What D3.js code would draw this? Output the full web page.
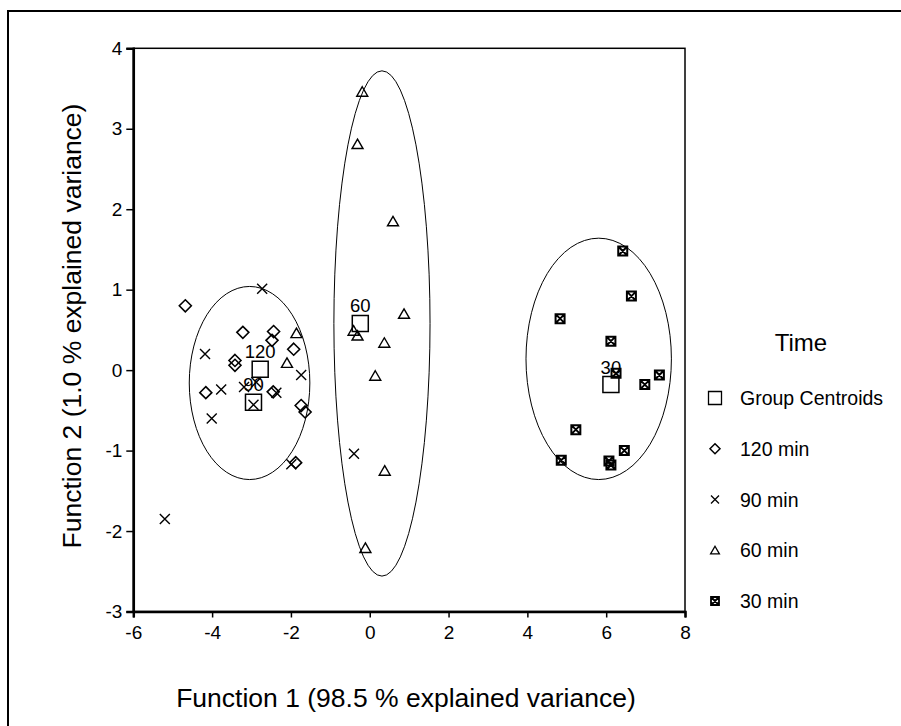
<!DOCTYPE html>
<html>
<head>
<meta charset="utf-8">
<script src="https://cdn.jsdelivr.net/npm/d3@7"></script>
<style>
  body { margin: 0; background: #fff; }
  svg { display: block; font-family: "Liberation Sans", Arial, sans-serif; }
  .tick text { fill: #000; }
  .tick line { stroke: #000; stroke-width: 1.5; }
</style>
</head>
<body>
<div id="chart"></div>
<script>
  // discriminant scores: [function 1, function 2]
  const min120 = [[-4.68, 0.80], [-3.22, 0.47], [-2.44, 0.48], [-2.48, 0.37], [-1.93, 0.26], [-3.42, 0.12],
                  [-3.42, 0.06], [-4.16, -0.28], [-2.45, -0.27], [-1.74, -0.44], [-1.64, -0.52], [-1.88, -1.15]];
  const min90 = [[-2.73, 1.01], [-4.18, 0.20], [-3.77, -0.24], [-3.19, -0.21], [-2.88, -0.15], [-4.01, -0.60],
                 [-2.37, -0.28], [-1.74, -0.06], [-2.95, -0.43], [-1.99, -1.17], [-5.20, -1.85], [-0.40, -1.04]];
  const min60 = [[-0.19, 3.46], [-0.31, 2.81], [0.59, 1.85], [0.87, 0.70], [-0.41, 0.49], [-0.31, 0.43],
                 [0.37, 0.34], [0.14, -0.07], [0.38, -1.25], [-0.11, -2.21], [-1.86, 0.46], [-2.10, 0.09]];
  const min30 = [[6.42, 1.48], [6.64, 0.92], [4.83, 0.64], [6.12, 0.36], [6.25, -0.04], [7.35, -0.06],
                 [6.98, -0.18], [5.23, -0.74], [6.46, -1.00], [4.86, -1.12], [6.07, -1.13], [6.12, -1.18]];

  const centroidLabels = ["120", "90", "60", "30"];
  const centroids = [[-2.78, 0.01], [-2.95, -0.40], [-0.24, 0.58], [6.12, -0.18]];

  // group ellipses: [cx, cy, rx, ry] in data units
  const ellipses = [[-3.05, -0.16, 1.53, 1.20], [0.31, 0.58, 1.22, 3.14], [5.81, 0.14, 1.845, 1.50]];

  const xTicks = [-6, -4, -2, 0, 2, 4, 6, 8];
  const yTicks = [-3, -2, -1, 0, 1, 2, 3, 4];
  const legendLabels = ["Group Centroids", "120 min", "90 min", "60 min", "30 min"];

  const W = 901, H = 726;
  const margin = { top: 48.3, right: 216, bottom: 114.5, left: 133.3 };
  const width = W - margin.left - margin.right;
  const height = H - margin.top - margin.bottom;

  const fmt = d => (d < 0 ? "-" : "") + Math.abs(d);

  const svg = d3.select("#chart").append("svg")
      .attr("width", W)
      .attr("height", H);

  // outer frame (top and left edges only)
  svg.append("path")
      .attr("d", `M8,${H} V11 H${W}`)
      .attr("fill", "none")
      .attr("stroke", "#000")
      .attr("stroke-width", 2);

  const g = svg.append("g")
      .attr("transform", `translate(${margin.left},${margin.top})`);

  const x = d3.scaleLinear().domain([-6, 8]).range([0, width]);
  const y = d3.scaleLinear().domain([-3, 4]).range([height, 0]);

  // box
  g.append("rect")
      .attr("width", width)
      .attr("height", height)
      .attr("fill", "none")
      .attr("stroke", "#000")
      .attr("stroke-width", 1.5);

  g.append("g")
      .attr("transform", `translate(0,${height})`)
      .call(d3.axisBottom(x).tickValues(xTicks).tickFormat(fmt).tickSize(6).tickPadding(8))
      .attr("font-family", null)
      .attr("font-size", 19)
      .call(a => a.select(".domain").attr("stroke-width", 2.5));

  g.append("g")
      .call(d3.axisLeft(y).tickValues(yTicks).tickFormat(fmt).tickSize(7).tickPadding(4))
      .attr("font-family", null)
      .attr("font-size", 19)
      .call(a => a.select(".domain").attr("stroke-width", 2.5));

  // ellipses
  g.selectAll(".ell")
    .data(ellipses)
    .join("ellipse")
      .attr("cx", d => x(d[0]))
      .attr("cy", d => y(d[1]))
      .attr("rx", d => x(d[0] + d[2]) - x(d[0]))
      .attr("ry", d => y(d[1] - d[3]) - y(d[1]))
      .attr("fill", "none")
      .attr("stroke", "#000")
      .attr("stroke-width", 1);

  // marker shapes, s = size in px
  const shapes = {
    diamond: s => `M0,${-s / 2}L${s / 2},0L0,${s / 2}L${-s / 2},0Z`,
    cross: s => `M${-s / 2},${-s / 2}L${s / 2},${s / 2}M${s / 2},${-s / 2}L${-s / 2},${s / 2}`,
    triangle: s => `M0,${-s * 0.5}L${s * 0.55},${s * 0.45}L${-s * 0.55},${s * 0.45}Z`,
    square: s => `M${-s / 2},${-s / 2}H${s / 2}V${s / 2}H${-s / 2}Z`,
    boxx: s => `M${-s / 2},${-s / 2}H${s / 2}V${s / 2}H${-s / 2}Z` +
               `M${-s / 2},${-s / 2}L${s / 2},${s / 2}M${s / 2},${-s / 2}L${-s / 2},${s / 2}`
  };

  const series = [
    { data: min120, shape: "diamond", size: 12, sw: 1.6 },
    { data: min90, shape: "cross", size: 10, sw: 1.4 },
    { data: min60, shape: "triangle", size: 10, sw: 1.4 },
    { data: min30, shape: "boxx", size: 9, sw: 2 }
  ];

  series.forEach(s => {
    g.selectAll(null)
      .data(s.data)
      .join("path")
        .attr("transform", d => `translate(${x(d[0])},${y(d[1])})`)
        .attr("d", shapes[s.shape](s.size))
        .attr("fill", "none")
        .attr("stroke", "#000")
        .attr("stroke-width", s.sw);
  });

  // centroids
  g.selectAll(".centroid")
    .data(centroids)
    .join("path")
      .attr("transform", d => `translate(${x(d[0])},${y(d[1])})`)
      .attr("d", shapes.square(16))
      .attr("fill", "none")
      .attr("stroke", "#000")
      .attr("stroke-width", 1.5);

  g.selectAll(".clabel")
    .data(centroids)
    .join("text")
      .attr("x", d => x(d[0]))
      .attr("y", d => y(d[1]) - 11)
      .attr("text-anchor", "middle")
      .attr("font-size", 18.5)
      .text((d, i) => centroidLabels[i]);

  // axis titles
  svg.append("text")
      .attr("x", 406)
      .attr("y", 707)
      .attr("text-anchor", "middle")
      .attr("font-size", 26.5)
      .text("Function 1 (98.5 % explained variance)");

  svg.append("text")
      .attr("transform", "translate(81,326) rotate(-90)")
      .attr("text-anchor", "middle")
      .attr("font-size", 26.5)
      .text("Function 2 (1.0 % explained variance)");

  // legend
  const legend = svg.append("g").attr("transform", "translate(715,0)");
  legend.append("text")
      .attr("x", 86)
      .attr("y", 351)
      .attr("text-anchor", "middle")
      .attr("font-size", 24)
      .text("Time");

  const legendShapes = [["square", 13, 1.3], ["diamond", 10, 1.5], ["cross", 8, 1.3], ["triangle", 8, 1.3], ["boxx", 8, 1.8]];
  const ly = d3.scalePoint().domain(legendLabels).range([398, 601]);

  const item = legend.selectAll(".item")
    .data(legendLabels)
    .join("g")
      .attr("transform", d => `translate(0,${ly(d)})`);

  item.append("path")
      .attr("d", (d, i) => shapes[legendShapes[i][0]](legendShapes[i][1]))
      .attr("fill", "none")
      .attr("stroke", "#000")
      .attr("stroke-width", (d, i) => legendShapes[i][2]);

  item.append("text")
      .attr("x", 25)
      .attr("y", 7)
      .attr("font-size", 19.5)
      .text(d => d);
</script>
</body>
</html>
